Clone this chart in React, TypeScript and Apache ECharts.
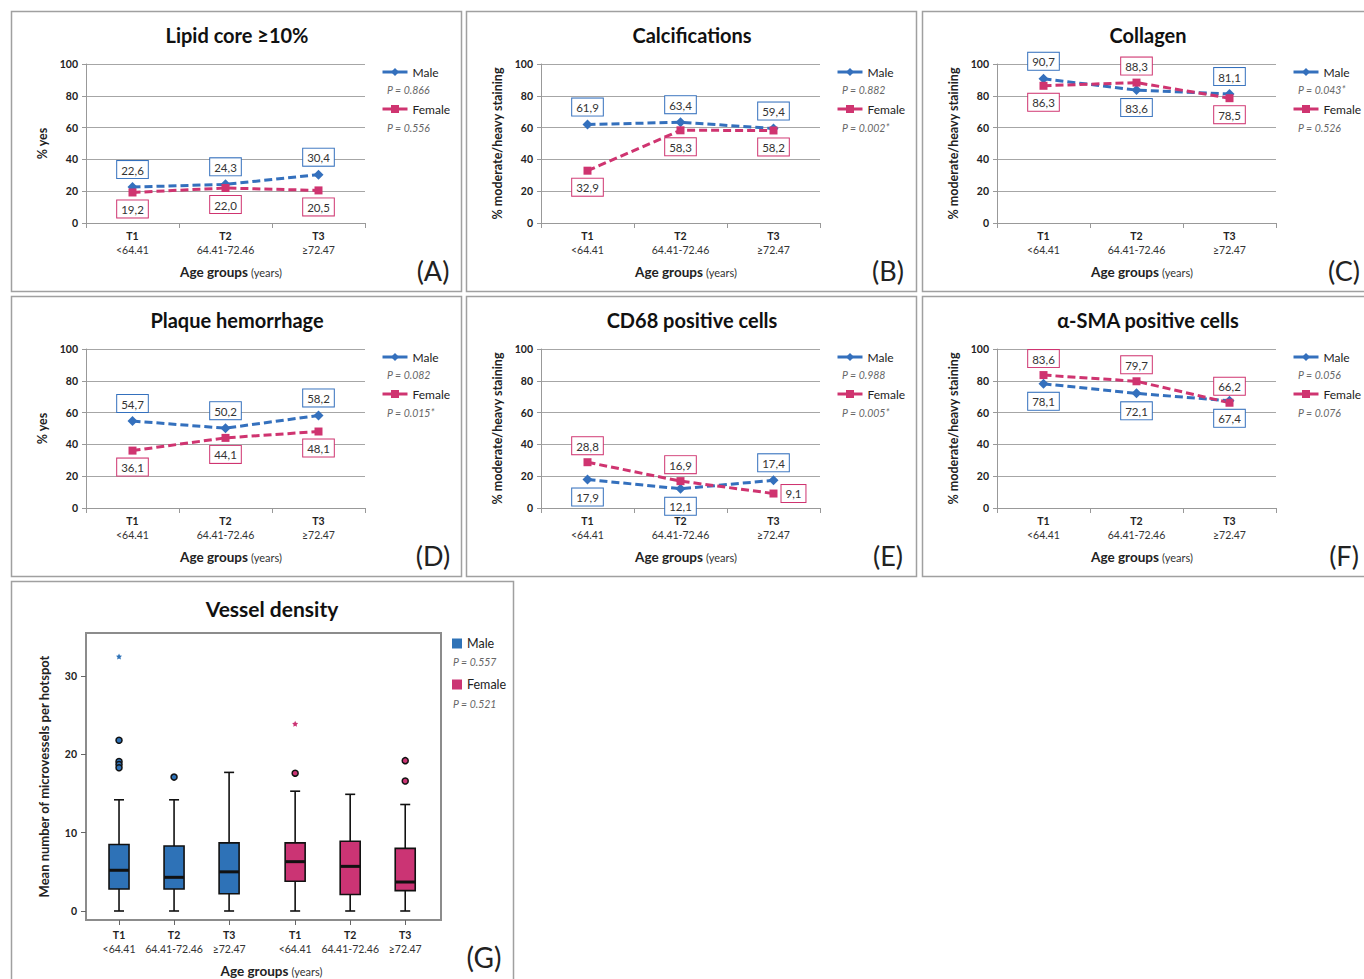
import React, { useEffect, useRef } from 'react';
import * as echarts from 'echarts';

// ---------- data ----------
const AGE_GROUPS = ['T1', 'T2', 'T3'];
const AGE_RANGES = ['<64.41', '64.41-72.46', '≥72.47'];
const SEXES = ['Male', 'Female'];

const LIPID_MALE = [22.6, 24.3, 30.4];
const LIPID_FEMALE = [19.2, 22.0, 20.5];
const CALC_MALE = [61.9, 63.4, 59.4];
const CALC_FEMALE = [32.9, 58.3, 58.2];
const COLLAGEN_MALE = [90.7, 83.6, 81.1];
const COLLAGEN_FEMALE = [86.3, 88.3, 78.5];
const HEMORRHAGE_MALE = [54.7, 50.2, 58.2];
const HEMORRHAGE_FEMALE = [36.1, 44.1, 48.1];
const CD68_MALE = [17.9, 12.1, 17.4];
const CD68_FEMALE = [28.8, 16.9, 9.1];
const SMA_MALE = [78.1, 72.1, 67.4];
const SMA_FEMALE = [83.6, 79.7, 66.2];

const P_MALE = ['0.866', '0.882', '0.043*', '0.082', '0.988', '0.056'];
const P_FEMALE = ['0.556', '0.002*', '0.526', '0.015*', '0.005*', '0.076'];

const TITLES = ['Lipid core ≥10%', 'Calcifications', 'Collagen', 'Plaque hemorrhage', 'CD68 positive cells', 'α-SMA positive cells'];
const LETTERS = ['(A)', '(B)', '(C)', '(D)', '(E)', '(F)'];
const Y_TITLES = ['% yes', '% moderate/heavy staining', '% moderate/heavy staining', '% yes', '% moderate/heavy staining', '% moderate/heavy staining'];

// Vessel density: [min, Q1, median, Q3, max]
const VD_MALE = [[0, 2.8, 5.2, 8.5, 14.2], [0, 2.8, 4.3, 8.3, 14.2], [0, 2.2, 5.0, 8.7, 17.7]];
const VD_FEMALE = [[0, 3.8, 6.3, 8.7, 15.3], [0, 2.1, 5.7, 8.9, 14.9], [0, 2.6, 3.7, 8.0, 13.6]];
const VD_MALE_OUTLIERS = [[21.8, 19.1, 18.7, 18.3], [17.1], []];
const VD_MALE_EXTREMES = [[32.5], [], []];
const VD_FEMALE_OUTLIERS = [[17.6], [], [19.2, 16.6]];
const VD_FEMALE_EXTREMES = [[23.9], [], []];
const VD_P = ['0.557', '0.521'];
const VD_TICKS = [0, 10, 20, 30];

// ---------- layout / style ----------
const FONT = 'Lato, "Open Sans", "DejaVu Sans", sans-serif';
const MALE_COLOR = '#3470bd';
const FEMALE_COLOR = '#cf3470';
const MALE_BOX = '#2e72b7';
const FEMALE_BOX = '#cb3474';
const GRID_GRAY = '#a6a6a6';
const PANEL_OFFSETS = [[0, 0], [455, 0], [911, 0], [0, 285], [455, 285], [911, 285]];
const T = 'top', B = 'bottom', R = 'right';
const LABEL_SIDES = [
  [[T, T, T], [B, B, B]],
  [[T, T, T], [B, B, B]],
  [[T, B, T], [B, T, B]],
  [[T, T, T], [B, B, B]],
  [[B, B, T], [T, T, R]],
  [[B, B, B], [T, T, T]],
];
const CLUSTER_SPACING = 3.2;

const PANELS = [
  { male: LIPID_MALE, female: LIPID_FEMALE },
  { male: CALC_MALE, female: CALC_FEMALE },
  { male: COLLAGEN_MALE, female: COLLAGEN_FEMALE },
  { male: HEMORRHAGE_MALE, female: HEMORRHAGE_FEMALE },
  { male: CD68_MALE, female: CD68_FEMALE },
  { male: SMA_MALE, female: SMA_FEMALE },
];

const fmt = (v: number) => v.toFixed(1).replace('.', ',');

const xLabelRich = {
  t: { fontSize: 10.5, fontWeight: 'bold', color: '#222', lineHeight: 14, fontFamily: FONT },
  s: { fontSize: 10.5, color: '#333', lineHeight: 14, fontFamily: FONT },
};
const xNameRich = {
  b: { fontSize: 13.5, fontWeight: 'bold', color: '#222', fontFamily: FONT },
  s: { fontSize: 11, color: '#333', fontFamily: FONT },
};

const STAR = 'path://M0,-10 L2.9,-4 L9.5,-3.1 L4.7,1.5 L5.9,8.1 L0,5 L-5.9,8.1 L-4.7,1.5 L-9.5,-3.1 L-2.9,-4Z';

function buildOption() {
  const grid: any[] = [];
  const xAxis: any[] = [];
  const yAxis: any[] = [];
  const series: any[] = [];
  const legend: any[] = [];
  const graphic: any[] = [];

  PANELS.forEach((panel, k) => {
    const [dx, dy] = PANEL_OFFSETS[k];
    grid.push({ left: 86 + dx, top: 64 + dy, width: 279, height: 159 });
    xAxis.push({
      gridIndex: k,
      type: 'category',
      data: AGE_GROUPS,
      boundaryGap: true,
      axisLine: { lineStyle: { color: '#999', width: 1 } },
      axisTick: { show: true, length: 5, lineStyle: { color: '#999' } },
      axisLabel: {
        margin: 6,
        interval: 0,
        formatter: (v: string, i: number) => `{t|${v}}\n{s|${AGE_RANGES[i]}}`,
        rich: xLabelRich,
      },
      name: '{b|Age groups} {s|(years)}',
      nameLocation: 'middle',
      nameGap: 42,
      nameTextStyle: { rich: xNameRich, padding: [0, 0, 0, 11] },
      splitLine: { show: false },
    });
    yAxis.push({
      gridIndex: k,
      type: 'value',
      min: 0,
      max: 100,
      interval: 20,
      axisLine: { show: true, lineStyle: { color: '#999', width: 1 } },
      axisTick: { show: true, length: 4, lineStyle: { color: '#999' } },
      axisLabel: { fontSize: 10.5, fontWeight: 'bold', color: '#222', fontFamily: FONT, margin: 8 },
      splitLine: { lineStyle: { color: GRID_GRAY, width: 1 } },
      name: Y_TITLES[k],
      nameLocation: 'middle',
      nameGap: 37,
      nameTextStyle: { fontSize: 12.5, fontWeight: 'bold', color: '#222', fontFamily: FONT },
    });
    [panel.male, panel.female].forEach((vals, s) => {
      const color = s === 0 ? MALE_COLOR : FEMALE_COLOR;
      series.push({
        type: 'line',
        name: SEXES[s],
        xAxisIndex: k,
        yAxisIndex: k,
        symbol: s === 0 ? 'diamond' : 'rect',
        symbolSize: s === 0 ? 10 : 8,
        itemStyle: { color },
        lineStyle: { color, width: 3, type: [8, 4] },
        data: vals.map((v, i) => ({ value: v, label: { position: LABEL_SIDES[k][s][i] } })),
        label: {
          show: true,
          formatter: (p: any) => fmt(p.value),
          color: '#333',
          fontSize: 11.5,
          fontFamily: FONT,
          padding: [3, 4, 2, 4],
          borderWidth: 1,
          borderColor: color,
          backgroundColor: '#fff',
          distance: 4,
        },
        z: 3,
      });
    });
    legend.push({
      orient: 'vertical',
      left: 381 + dx,
      top: 66 + dy,
      padding: 0,
      itemWidth: 25,
      itemHeight: 10,
      itemGap: 25,
      selectedMode: false,
      data: SEXES,
      lineStyle: { type: 'solid', width: 3 },
      textStyle: { fontSize: 12, color: '#222', fontFamily: FONT },
    });
    graphic.push(
      { type: 'rect', shape: { x: 11.5 + dx, y: 11.5 + dy, width: 450, height: 280 }, style: { fill: 'none', stroke: '#a0a0a0', lineWidth: 1.5 }, silent: true },
      { type: 'text', x: 237 + dx, y: 35 + dy, style: { text: TITLES[k], fontSize: 20, fontWeight: 'bold', fill: '#111', fontFamily: FONT, align: 'center', verticalAlign: 'middle' } },
      { type: 'text', x: 433 + dx, y: 270 + dy, style: { text: LETTERS[k], fontSize: 27, fill: '#222', fontFamily: FONT, align: 'center', verticalAlign: 'middle' } },
      { type: 'text', x: 387 + dx, y: 90 + dy, style: { text: `P = ${P_MALE[k]}`, fontSize: 10.5, fontStyle: 'italic', fill: '#666', fontFamily: FONT, verticalAlign: 'middle' } },
      { type: 'text', x: 387 + dx, y: 128 + dy, style: { text: `P = ${P_FEMALE[k]}`, fontSize: 10.5, fontStyle: 'italic', fill: '#666', fontFamily: FONT, verticalAlign: 'middle' } },
    );
  });

  // ---------- panel G: vessel density ----------
  const g = PANELS.length;
  const boxX = [0, 1].flatMap((s) => AGE_GROUPS.map((_, i) => i + s * CLUSTER_SPACING));
  grid.push({ left: 86, top: 633, width: 355, height: 287, show: true, borderColor: '#8c8c8c', borderWidth: 2, backgroundColor: '#fff' });
  xAxis.push({
    gridIndex: g,
    type: 'value',
    min: -0.6,
    max: 5.85,
    axisLine: { show: true, onZero: false, lineStyle: { color: '#8c8c8c', width: 2 } },
    axisTick: { show: true, length: 5, customValues: boxX, lineStyle: { color: '#666' } },
    axisLabel: {
      margin: 8,
      customValues: boxX,
      formatter: (v: number) => {
        const idx = boxX.findIndex((b) => Math.abs(b - v) < 1e-6);
        const j = idx < 0 ? 0 : idx % 3;
        return `{t|${AGE_GROUPS[j]}}\n{s|${AGE_RANGES[j]}}`;
      },
      rich: xLabelRich,
    },
    splitLine: { show: false },
    name: '{b|Age groups} {s|(years)}',
    nameLocation: 'middle',
    nameGap: 44,
    nameTextStyle: { rich: xNameRich, padding: [0, 0, 0, 16] },
  });
  yAxis.push({
    gridIndex: g,
    type: 'value',
    min: -1.15,
    max: 35.5,
    axisLine: { show: true, onZero: false, lineStyle: { color: '#8c8c8c', width: 2 } },
    axisTick: { show: true, length: 5, customValues: VD_TICKS, lineStyle: { color: '#666' } },
    axisLabel: { customValues: VD_TICKS, fontSize: 10.5, fontWeight: 'bold', color: '#222', fontFamily: FONT, margin: 9 },
    splitLine: { show: false },
    name: 'Mean number of microvessels per hotspot',
    nameLocation: 'middle',
    nameGap: 36,
    nameTextStyle: { fontSize: 13, fontWeight: 'bold', color: '#222', fontFamily: FONT },
  });

  const boxRenderer = (color: string) => (params: any, api: any) => {
    const x = api.value(0);
    const y = (d: number) => api.coord([x, api.value(d)])[1];
    const cx = api.coord([x, 0])[0];
    const yMin = y(1), yQ1 = y(2), yMed = y(3), yQ3 = y(4), yMax = y(5);
    const bw = 10, cw = 5;
    const ls = { stroke: '#111', lineWidth: 1.6 };
    return {
      type: 'group',
      children: [
        { type: 'line', shape: { x1: cx, y1: yMax, x2: cx, y2: yQ3 }, style: ls },
        { type: 'line', shape: { x1: cx, y1: yQ1, x2: cx, y2: yMin }, style: ls },
        { type: 'line', shape: { x1: cx - cw, y1: yMax, x2: cx + cw, y2: yMax }, style: ls },
        { type: 'line', shape: { x1: cx - cw, y1: yMin, x2: cx + cw, y2: yMin }, style: ls },
        { type: 'rect', shape: { x: cx - bw, y: yQ3, width: 2 * bw, height: yQ1 - yQ3 }, style: { fill: color, stroke: '#111', lineWidth: 1.6 } },
        { type: 'line', shape: { x1: cx - bw, y1: yMed, x2: cx + bw, y2: yMed }, style: { stroke: '#111', lineWidth: 3 } },
      ],
    };
  };

  const boxSets = [VD_MALE, VD_FEMALE];
  const outlierSets = [VD_MALE_OUTLIERS, VD_FEMALE_OUTLIERS];
  const extremeSets = [VD_MALE_EXTREMES, VD_FEMALE_EXTREMES];
  [0, 1].forEach((s) => {
    const color = s === 0 ? MALE_BOX : FEMALE_BOX;
    series.push({
      type: 'custom',
      name: SEXES[s],
      xAxisIndex: g,
      yAxisIndex: g,
      data: boxSets[s].map((st, i) => [i + s * CLUSTER_SPACING, ...st]),
      encode: { x: 0, y: [1, 2, 3, 4, 5] },
      renderItem: boxRenderer(color),
      z: 2,
    });
    series.push({
      type: 'scatter',
      name: SEXES[s] + ' outliers',
      xAxisIndex: g,
      yAxisIndex: g,
      symbol: 'circle',
      symbolSize: 6,
      itemStyle: { color, borderColor: '#111', borderWidth: 1.5, opacity: 1 },
      data: outlierSets[s].flatMap((vals, i) => vals.map((v) => [i + s * CLUSTER_SPACING, v])),
      z: 4,
    });
    series.push({
      type: 'scatter',
      name: SEXES[s] + ' extremes',
      xAxisIndex: g,
      yAxisIndex: g,
      symbol: STAR,
      symbolSize: 6,
      itemStyle: { color, opacity: 1 },
      data: extremeSets[s].flatMap((vals, i) => vals.map((v) => [i + s * CLUSTER_SPACING, v])),
      z: 4,
    });
  });

  legend.push({
    orient: 'vertical',
    left: 452,
    top: 637,
    padding: 0,
    itemWidth: 10,
    itemHeight: 10,
    itemGap: 28,
    selectedMode: false,
    data: [
      { name: 'Male', icon: 'rect', itemStyle: { color: MALE_BOX } },
      { name: 'Female', icon: 'rect', itemStyle: { color: FEMALE_BOX } },
    ],
    textStyle: { fontSize: 12.5, color: '#222', fontFamily: FONT },
  });
  graphic.push(
    { type: 'rect', shape: { x: 11.5, y: 581.5, width: 502, height: 410 }, style: { fill: 'none', stroke: '#a0a0a0', lineWidth: 1.5 }, silent: true },
    { type: 'text', x: 272, y: 608, style: { text: 'Vessel density', fontSize: 21, fontWeight: 'bold', fill: '#111', fontFamily: FONT, align: 'center', verticalAlign: 'middle' } },
    { type: 'text', x: 484, y: 957, style: { text: '(G)', fontSize: 28, fill: '#222', fontFamily: FONT, align: 'center', verticalAlign: 'middle' } },
    { type: 'text', x: 453, y: 662, style: { text: `P = ${VD_P[0]}`, fontSize: 10.5, fontStyle: 'italic', fill: '#666', fontFamily: FONT, verticalAlign: 'middle' } },
    { type: 'text', x: 453, y: 704, style: { text: `P = ${VD_P[1]}`, fontSize: 10.5, fontStyle: 'italic', fill: '#666', fontFamily: FONT, verticalAlign: 'middle' } },
  );

  return {
    animation: false,
    backgroundColor: '#fff',
    textStyle: { fontFamily: FONT },
    grid,
    xAxis,
    yAxis,
    series,
    legend,
    graphic,
  };
}

export default function App() {
  const ref = useRef<HTMLDivElement>(null);
  useEffect(() => {
    const chart = echarts.init(ref.current as HTMLDivElement, null, { renderer: 'svg' });
    chart.setOption(buildOption() as any);
    return () => chart.dispose();
  }, []);
  return (
    <div
      ref={ref}
      style={{ position: 'absolute', left: 0, top: 0, width: 1364, height: 979, background: '#fff' }}
    />
  );
}
